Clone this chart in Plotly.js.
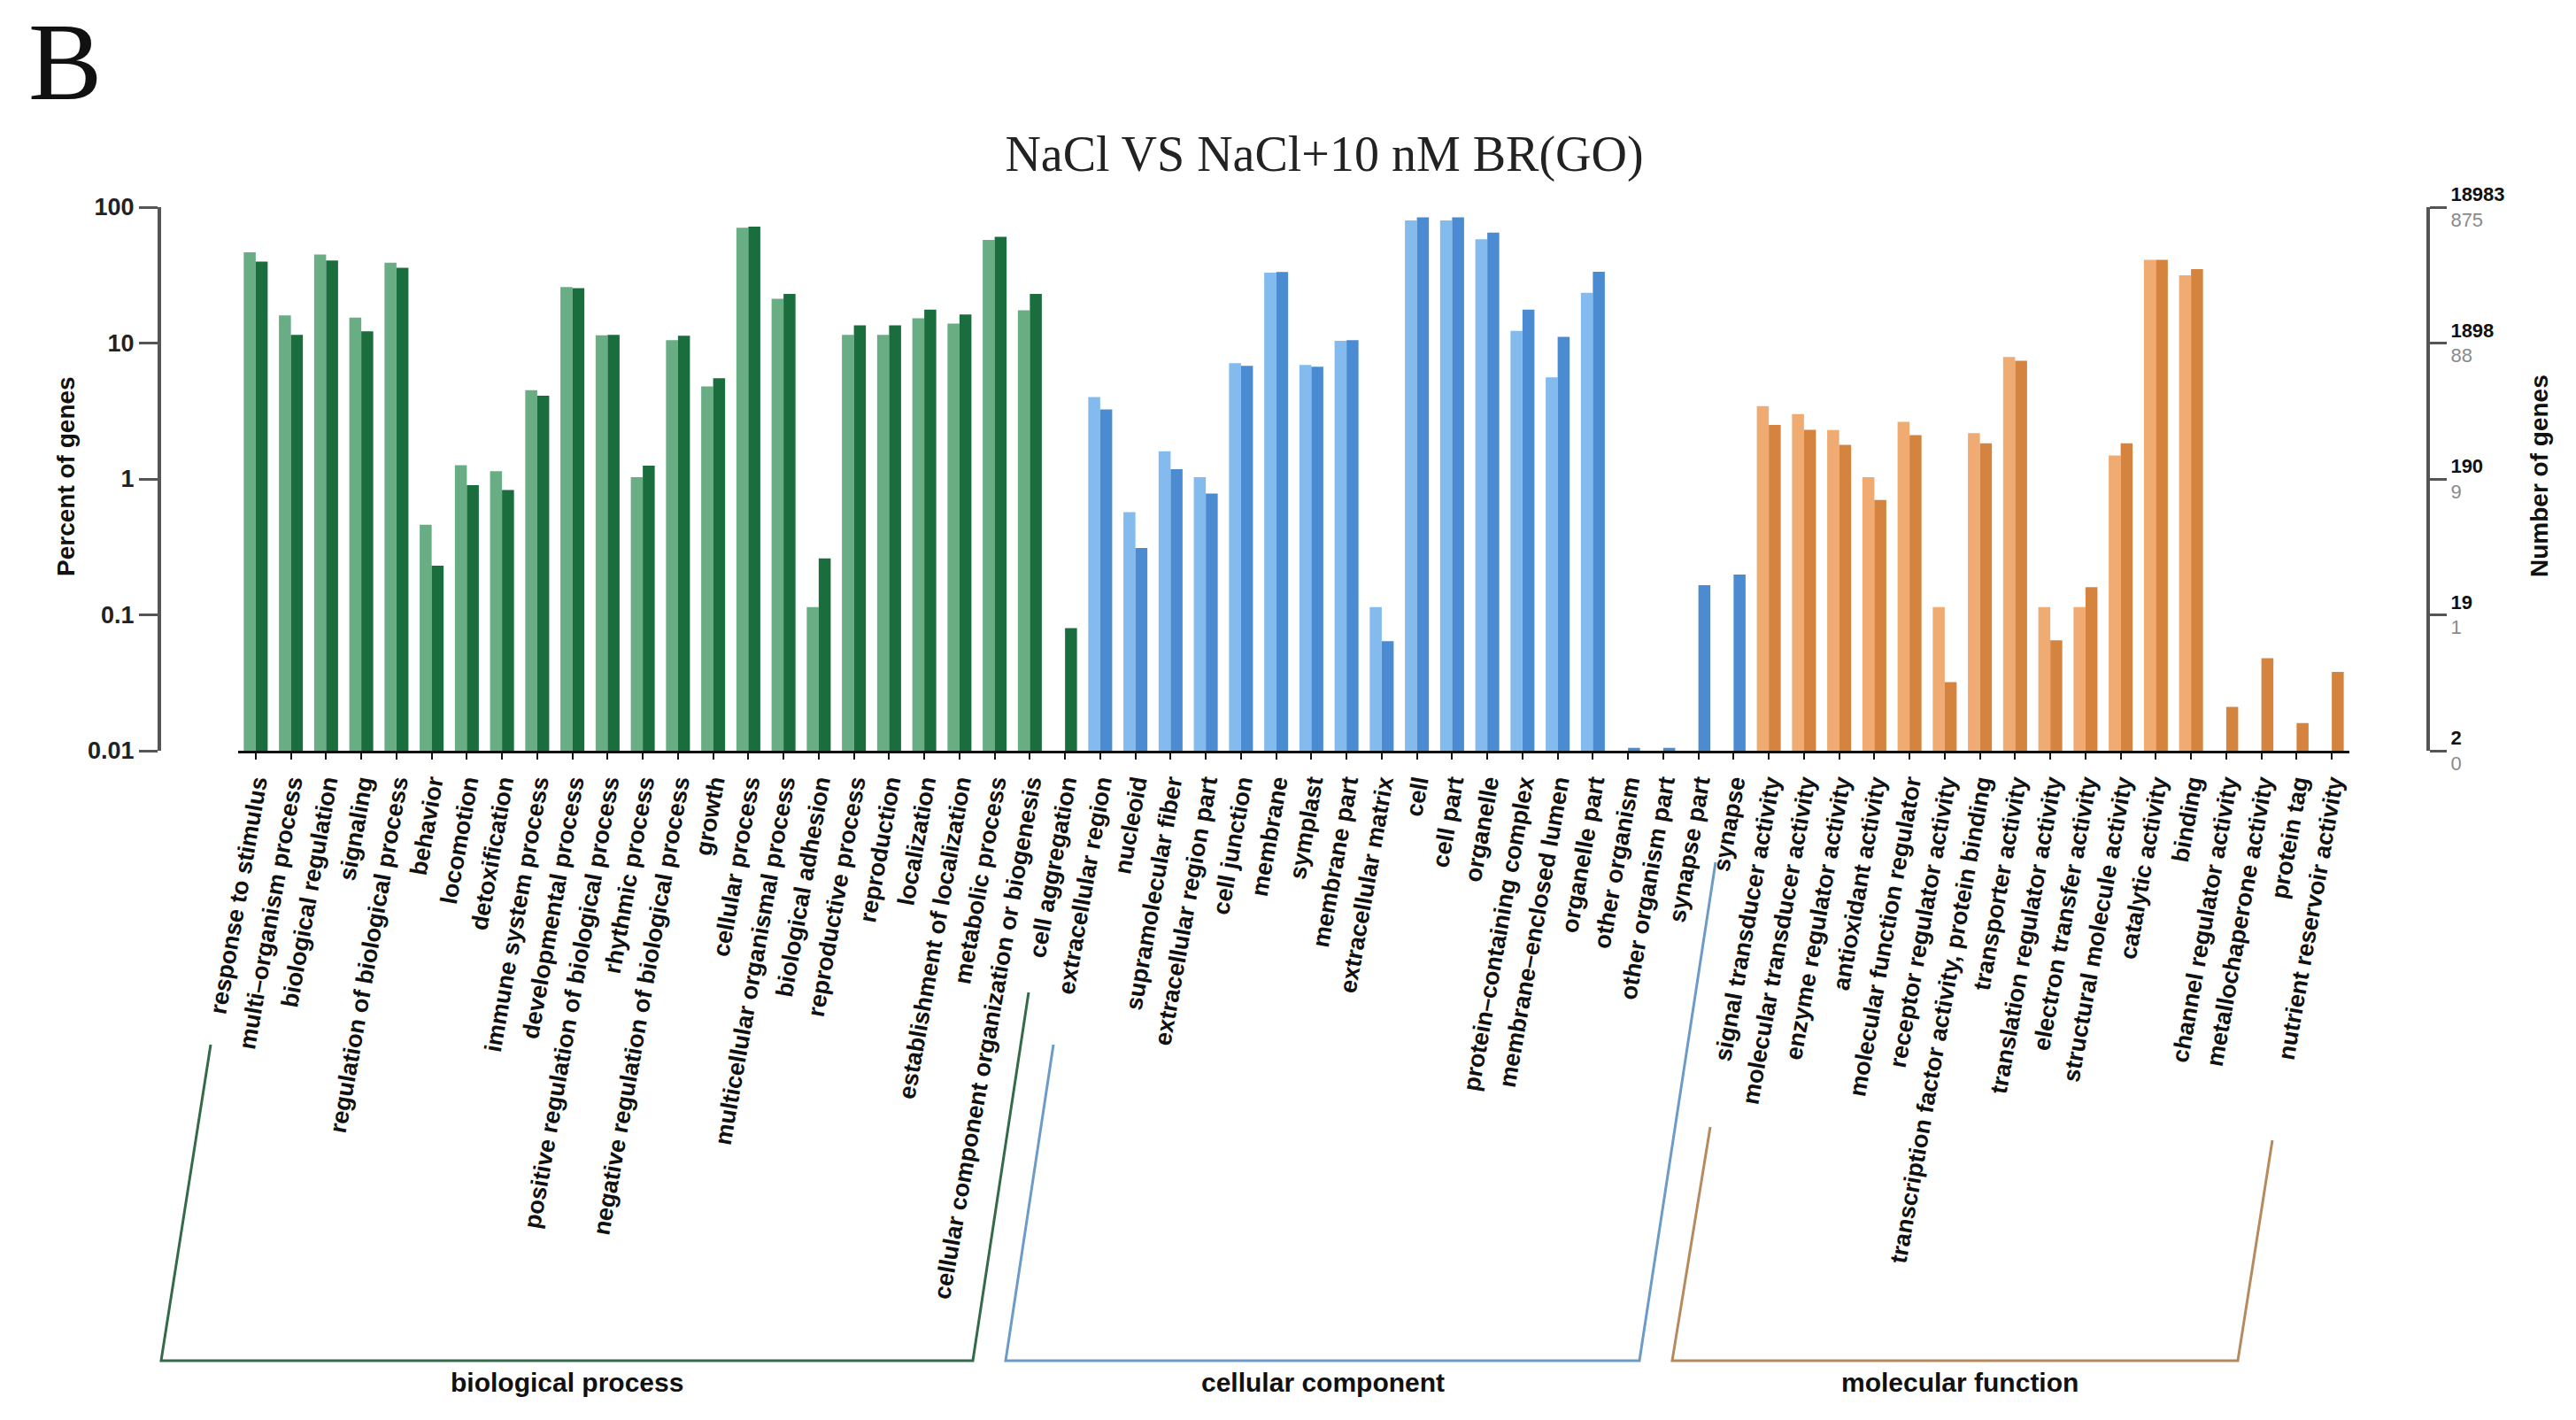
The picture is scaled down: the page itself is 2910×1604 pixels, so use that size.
<!DOCTYPE html>
<html>
<head>
<meta charset="utf-8">
<script src="https://cdn.plot.ly/plotly-3.0.1.min.js"></script>
<style>html,body{margin:0;padding:0;background:#fff;}#chart{width:2910px;height:1604px;}</style>
</head>
<body>
<div id="chart"></div>
<script>
// ---------- data ----------
const bpTerms = ["response to stimulus","multi\u2013organism process","biological regulation","signaling","regulation of biological process","behavior","locomotion","detoxification","immune system process","developmental process","positive regulation of biological process","rhythmic process","negative regulation of biological process","growth","cellular process","multicellular organismal process","biological adhesion","reproductive process","reproduction","localization","establishment of localization","metabolic process","cellular component organization or biogenesis","cell aggregation"];
const bpDEG = [46.5,16.0,44.8,15.4,39.0,0.46,1.26,1.14,4.5,25.8,11.4,1.03,10.5,4.8,70.5,21.2,0.114,11.5,11.5,15.2,13.9,57.5,17.4,null];
const bpAll = [39.8,11.5,40.5,12.2,35.8,0.23,0.90,0.83,4.1,25.3,11.5,1.25,11.3,5.5,72.0,23.0,0.26,13.5,13.5,17.6,16.2,60.5,23.0,0.08];

const ccTerms = ["extracellular region","nucleoid","supramolecular fiber","extracellular region part","cell junction","membrane","symplast","membrane part","extracellular matrix","cell","cell part","organelle","protein\u2013containing complex","membrane\u2013enclosed lumen","organelle part","other organism","other organism part","synapse part","synapse"];
const ccDEG = [4.0,0.57,1.6,1.03,7.1,33.0,6.9,10.4,0.114,80.0,80.0,58.0,12.3,5.6,23.4,null,null,null,null];
const ccAll = [3.25,0.31,1.18,0.78,6.8,33.3,6.7,10.5,0.064,84.0,84.0,65.0,17.6,11.1,33.5,0.0105,0.0105,0.165,0.198];

const mfTerms = ["signal transducer activity","molecular transducer activity","enzyme regulator activity","antioxidant activity","molecular function regulator","receptor regulator activity","transcription factor activity, protein binding","transporter activity","translation regulator activity","electron transfer activity","structural molecule activity","catalytic activity","binding","channel regulator activity","metallochaperone activity","protein tag","nutrient reservoir activity"];
const mfDEG = [3.43,3.0,2.29,1.03,2.63,0.114,2.17,7.9,0.114,0.114,1.49,41.0,31.5,null,null,null,null];
const mfAll = [2.5,2.3,1.78,0.70,2.1,0.032,1.83,7.4,0.065,0.16,1.83,41.0,35.0,0.021,0.048,0.016,0.038];

const groupNames = ["biological process","cellular component","molecular function"];
const leftTickVals = [0.01,0.1,1,10,100];
const leftTickText = ["0.01","0.1","1","10","100"];
const rightAllCounts = ["2","19","190","1898","18983"];
const rightDEGCounts = ["0","1","9","88","875"];

// ---------- styling ----------
const lightCol = ["#68ad84","#84bbee","#f0ab72"];
const darkCol  = ["#1a6d3c","#4a8bd2","#d5843f"];
const bracketCol = ["#346a4a","#6b9bc6","#b68a5e"];

const groups = [[bpTerms,bpDEG,bpAll],[ccTerms,ccDEG,ccAll],[mfTerms,mfDEG,mfAll]];
let cats=[], deg=[], all=[], cL=[], cD=[];
groups.forEach((g,gi)=>{
  g[0].forEach((t,i)=>{cats.push(t);deg.push(g[1][i]);all.push(g[2][i]);cL.push(lightCol[gi]);cD.push(darkCol[gi]);});
});

const W=2910,H=1604, ML=180, MR=167, MT=234, MB=756;
const PW=W-ML-MR, PH=H-MT-MB;
const px=x=>(x-ML)/PW, py=y=>(H-MB-y)/PH;

const traces=[
  {type:'bar',x:cats,y:deg,name:'DEG',marker:{color:cL,line:{width:0}},hoverinfo:'x+y'},
  {type:'bar',x:cats,y:all,name:'All',marker:{color:cD,line:{width:0}},hoverinfo:'x+y'},
  {type:'scatter',mode:'markers',x:[cats[0]],y:[1],yaxis:'y2',marker:{opacity:0,size:1},hoverinfo:'skip',showlegend:false}
];

function bracket(pts,col){
  let d=pts.map((p,i)=>(i?'L':'M')+px(p[0]).toFixed(5)+','+py(p[1]).toFixed(5)).join(' ');
  return {type:'path',xref:'paper',yref:'paper',path:d,line:{color:col,width:3}};
}
const shapes=[
  bracket([[238,1180],[182,1537],[1099,1537],[1162,1121]],bracketCol[0]),
  bracket([[1190,1180],[1136,1537],[1852,1537],[1938,974]],bracketCol[1]),
  bracket([[1932,1273],[1889,1537],[2528,1537],[2567,1288]],bracketCol[2])
];

const bold={family:'Liberation Sans, Arial, sans-serif',weight:'bold',color:'#111'};
const annotations=[
  {text:'B',xref:'paper',yref:'paper',x:px(30),y:py(70),xanchor:'left',yanchor:'middle',showarrow:false,font:{family:'Liberation Serif, Times New Roman, serif',size:125,color:'#111'}},
  {text:'Percent of genes',xref:'paper',yref:'paper',x:px(74),y:py(538),textangle:-90,showarrow:false,xanchor:'center',yanchor:'middle',font:Object.assign({size:28},bold)},
  {text:'Number of genes',xref:'paper',yref:'paper',x:px(2868),y:py(538),textangle:-90,showarrow:false,xanchor:'center',yanchor:'middle',font:Object.assign({size:28},bold)},
  {text:groupNames[0],xref:'paper',yref:'paper',x:px(640),y:py(1561),showarrow:false,xanchor:'center',yanchor:'middle',font:Object.assign({size:30},bold)},
  {text:groupNames[1],xref:'paper',yref:'paper',x:px(1494),y:py(1561),showarrow:false,xanchor:'center',yanchor:'middle',font:Object.assign({size:30},bold)},
  {text:groupNames[2],xref:'paper',yref:'paper',x:px(2214),y:py(1561),showarrow:false,xanchor:'center',yanchor:'middle',font:Object.assign({size:30},bold)}
];

const layout={
  width:W,height:H,margin:{l:ML,r:MR,t:MT,b:MB},
  paper_bgcolor:'#fff',plot_bgcolor:'#fff',showlegend:false,
  title:{text:'NaCl VS NaCl+10 nM BR(GO)',x:1496/W,xref:'container',y:1-173/H,yref:'container',xanchor:'center',yanchor:'middle',font:{family:'Liberation Serif, Times New Roman, serif',size:56,color:'#222'}},
  barmode:'group',bargap:0.32,bargroupgap:0,
  xaxis:{type:'category',range:[-0.5,cats.length-0.5],autorange:false,domain:[(269-ML)/PW,(2654-ML)/PW],showline:true,linecolor:'#111',linewidth:3,ticks:'outside',ticklen:7,tickwidth:2,tickcolor:'#111',tickangle:-80,tickfont:Object.assign({size:27},bold),showgrid:false,zeroline:false,automargin:false,fixedrange:true},
  yaxis:{type:'log',range:[-2,2],anchor:'free',position:0,showline:true,linecolor:'#555',linewidth:4,ticks:'outside',ticklen:21,tickwidth:3,tickcolor:'#555',tickvals:leftTickVals,ticktext:leftTickText,tickfont:Object.assign({size:27},bold,{color:'#222'}),showgrid:false,zeroline:false,automargin:false},
  yaxis2:{type:'log',range:[-2,2],overlaying:'y',side:'right',anchor:'free',position:1,showline:true,linecolor:'#555',linewidth:4,ticks:'outside',ticklen:19,tickwidth:3,tickcolor:'#555',tickvals:leftTickVals,
    ticktext:leftTickVals.map((v,i)=>'<b>'+rightAllCounts[i]+'</b><br><span style="color:#8a8a8a">'+rightDEGCounts[i]+'</span>'),
    tickfont:{family:'Liberation Sans, Arial, sans-serif',size:22,color:'#111'},showgrid:false,zeroline:false,automargin:false},
  shapes:shapes,annotations:annotations
};
Plotly.newPlot('chart',traces,layout,{staticPlot:true,displayModeBar:false});
</script>
</body>
</html>
